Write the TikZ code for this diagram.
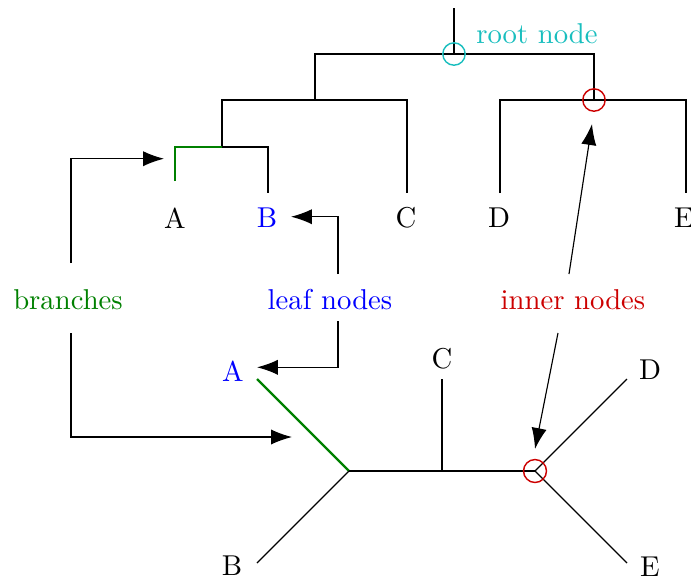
\documentclass[tikz,border=0pt]{standalone}
\usetikzlibrary{arrows.meta}
\definecolor{rootc}{RGB}{25,190,190}
\definecolor{branchc}{RGB}{0,128,0}
\definecolor{leafc}{RGB}{0,0,255}
\definecolor{innerc}{RGB}{204,0,0}
\begin{document}
\begin{tikzpicture}[x=0.3484pt,y=-0.3484pt,
  edge/.style={line width=0.4pt},
  grn/.style={draw=branchc, line width=0.8pt},
  arr/.style={-{Latex[length=7.3pt,width=5.3pt]}, line width=0.4pt},
  lbl/.style={inner sep=0pt},
  mark circ/.style={line width=0.5pt}]
\useasboundingbox (0,0) rectangle (691,581);

% ---------- rooted tree (top) ----------
\coordinate (rtop) at (454,8);
\coordinate (root) at (454,54);
\coordinate (nABC) at (315,100);
\coordinate (nAB) at (222,147);
\coordinate (nDE) at (594,100);
\coordinate (lA) at (175,181);
\coordinate (lB) at (268,193);
\coordinate (lC) at (407,193);
\coordinate (lD) at (500,193);
\coordinate (lE) at (686,193);

\draw[edge] (root) -- (rtop);
\draw[edge] (nABC) |- (root) -| (nDE);
\draw[edge] (nAB) |- (nABC) -| (lC);
\draw[edge] (nAB) -| (lB);
\draw[grn] (lA) |- (nAB);
\draw[edge] (lD) |- (nDE) -| (lE);
\draw[rootc, mark circ] (root) circle[radius=3.9pt];
\draw[innerc, mark circ] (nDE) circle[radius=3.9pt];

\node[lbl] (tA) at (175,218) {A};
\node[lbl, text=leafc] (tB) at (267,218) {B};
\node[lbl] (tC) at (406,218) {C};
\node[lbl] (tD) at (499,218) {D};
\node[lbl] (tE) at (684,218) {E};
\node[lbl, text=rootc] (rootlbl) at (537,34) {root node};

% ---------- unrooted tree (bottom) ----------
\coordinate (u1) at (349,471);
\coordinate (u2) at (442,471);
\coordinate (u3) at (535,471);
\coordinate (uA) at (257,379);
\coordinate (uB) at (257,563);
\coordinate (uC) at (442,379);
\coordinate (uD) at (627,379);
\coordinate (uE) at (627,563);

\draw[grn] (uA) -- (u1);
\draw[edge] (u1) -- (uB);
\draw[edge] (u1) -- (u3);
\draw[edge] (u2) -- (uC);
\draw[edge] (u3) -- (uD);
\draw[edge] (u3) -- (uE);
\draw[innerc, mark circ] (u3) circle[radius=4pt];

\node[lbl, text=leafc] (bA) at (233,371) {A};
\node[lbl] (bB) at (232,566) {B};
\node[lbl] (bC) at (442,359) {C};
\node[lbl] (bD) at (650,370) {D};
\node[lbl] (bE) at (650,567) {E};

% ---------- annotations ----------
\node[lbl, text=branchc] (branches) at (68,300) {branches};
\node[lbl, text=leafc] (leaves) at (330,300) {leaf nodes};
\node[lbl, text=innerc] (inner) at (573,300) {inner nodes};

\coordinate (brU) at (71,263);
\coordinate (brUt) at (164,158.7);
\coordinate (brD) at (71,333);
\coordinate (brDt) at (292,437);
\coordinate (lfU) at (338,274);
\coordinate (lfUt) at (291,216.7);
\coordinate (lfD) at (338,321);
\coordinate (lfDt) at (257,367.3);
\coordinate (inU) at (569,274);
\coordinate (inUt) at (592,124);
\coordinate (inD) at (558,333);
\coordinate (inDt) at (535,449);

\draw[arr] (brU) |- (brUt);
\draw[arr] (brD) |- (brDt);
\draw[arr] (lfU) |- (lfUt);
\draw[arr] (lfD) |- (lfDt);
\draw[arr] (inU) -- (inUt);
\draw[arr] (inD) -- (inDt);
\end{tikzpicture}
\end{document}
